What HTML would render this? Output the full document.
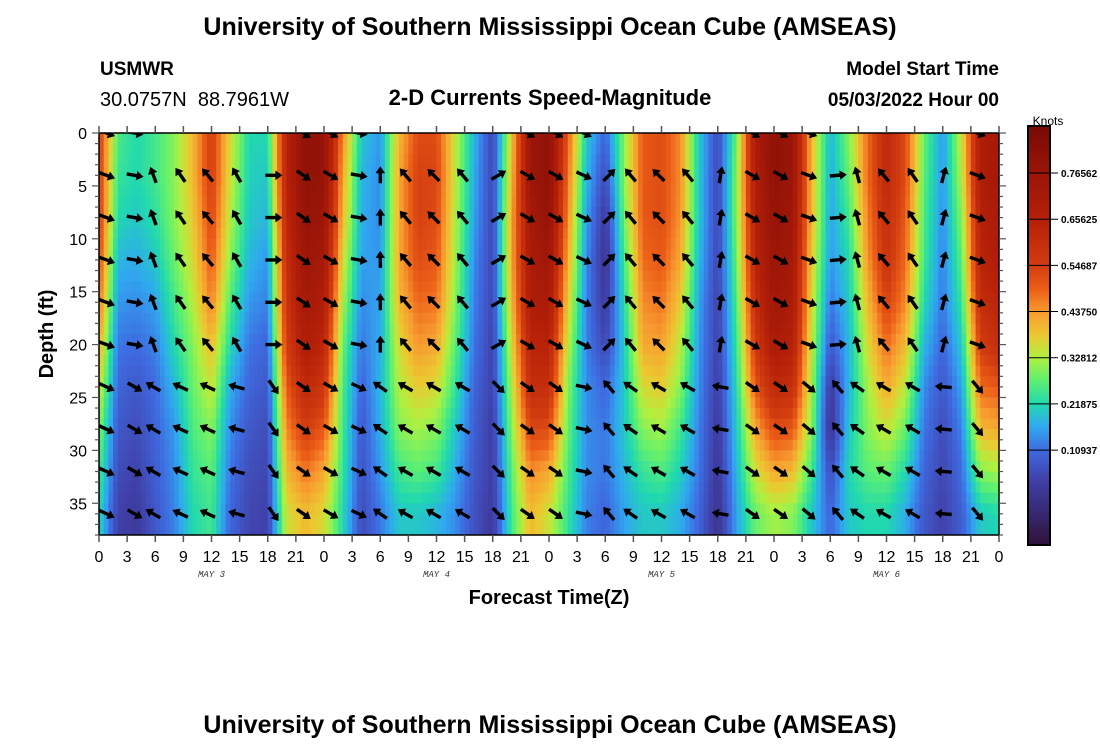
<!DOCTYPE html>
<html><head><meta charset="utf-8"><style>
html,body{margin:0;padding:0;background:#fff;}
svg{display:block;font-family:"Liberation Sans",sans-serif;}
</style></head><body>
<svg id="chart" width="1100" height="750" viewBox="0 0 1100 750">
<defs><clipPath id="plotclip"><rect x="99" y="133" width="900" height="402"/></clipPath></defs>
<text x="550" y="35" text-anchor="middle" font-size="25" font-weight="bold">University of Southern Mississippi Ocean Cube (AMSEAS)</text>
<text x="100" y="75" font-size="19" font-weight="bold">USMWR</text>
<text x="100" y="106" font-size="20">30.0757N&#160; 88.7961W</text>
<text x="550" y="105" text-anchor="middle" font-size="22" font-weight="bold">2-D Currents Speed-Magnitude</text>
<text x="999" y="75" text-anchor="end" font-size="19" font-weight="bold">Model Start Time</text>
<text x="999" y="106" text-anchor="end" font-size="19" font-weight="bold">05/03/2022 Hour 00</text>
<g id="heat" clip-path="url(#plotclip)"></g>
<g id="arrows" clip-path="url(#plotclip)"></g>
<g id="axes"></g>
<text transform="translate(53,334) rotate(-90)" text-anchor="middle" font-size="20" font-weight="bold">Depth (ft)</text>
<text x="549" y="604" text-anchor="middle" font-size="20" font-weight="bold">Forecast Time(Z)</text>
<text x="1048" y="125" text-anchor="middle" font-size="12">Knots</text>
<g id="cbar"></g>
<text x="550" y="733" text-anchor="middle" font-size="25" font-weight="bold">University of Southern Mississippi Ocean Cube (AMSEAS)</text>
</svg>
<script>
// ---- data ----
const hours = [0,2,4,6,8,10,12,14,16,18,20,22,24,26,28,30,32,34,36,38,40,42,44,46,48,50,52,54,56,58,60,62,64,66,68,70,72,74,76,78,80,82,84,86,88,90,92,94,96];
const depths = [0,4,8,12,16,20,24,28,32,36];
// speed[column][depthIndex] in knots
const speed = [
[.55,.55,.55,.52,.48,.42,.36,.3,.26,.22],
[.26,.24,.22,.18,.15,.12,.10,.08,.06,.04],
[.22,.22,.20,.17,.14,.11,.08,.06,.04,.02],
[.25,.25,.23,.2,.16,.13,.11,.1,.09,.08],
[.3,.3,.3,.28,.25,.22,.18,.15,.14,.13],
[.4,.4,.38,.36,.33,.3,.28,.26,.24,.22],
[.55,.55,.53,.5,.46,.4,.35,.3,.27,.25],
[.36,.35,.33,.3,.26,.22,.17,.14,.12,.1],
[.22,.21,.2,.18,.15,.12,.1,.08,.06,.05],
[.22,.2,.18,.15,.13,.1,.08,.06,.05,.04],
[.65,.65,.63,.6,.58,.55,.5,.45,.4,.35],
[.8,.8,.78,.75,.72,.68,.62,.55,.47,.4],
[.78,.78,.76,.72,.68,.63,.57,.5,.42,.36],
[.45,.42,.4,.36,.32,.28,.26,.25,.24,.22],
[.2,.18,.17,.16,.14,.12,.1,.08,.07,.06],
[.15,.14,.14,.15,.16,.17,.18,.17,.15,.12],
[.4,.42,.42,.42,.4,.36,.33,.3,.25,.2],
[.52,.54,.54,.52,.48,.44,.38,.32,.27,.2],
[.52,.53,.52,.5,.47,.42,.36,.3,.25,.18],
[.34,.34,.33,.32,.3,.27,.24,.2,.17,.14],
[.18,.17,.16,.14,.13,.12,.1,.09,.08,.07],
[.05,.05,.05,.05,.05,.04,.04,.03,.03,.02],
[.38,.4,.42,.42,.4,.36,.33,.3,.27,.25],
[.75,.75,.72,.7,.68,.64,.6,.53,.45,.4],
[.8,.8,.78,.74,.7,.65,.6,.52,.42,.35],
[.5,.48,.45,.42,.38,.34,.3,.28,.26,.24],
[.2,.18,.16,.14,.13,.13,.14,.14,.14,.13],
[.1,.06,.02,0,.02,.05,.1,.12,.12,.1],
[.3,.3,.28,.25,.22,.2,.2,.2,.18,.16],
[.5,.5,.5,.48,.45,.42,.36,.3,.24,.2],
[.52,.52,.52,.5,.47,.43,.38,.32,.26,.2],
[.45,.45,.44,.42,.38,.34,.3,.25,.21,.17],
[.2,.2,.2,.18,.16,.15,.14,.13,.12,.1],
[.06,.05,.05,.05,.04,.04,.03,.02,.01,0],
[.28,.3,.3,.28,.26,.24,.22,.2,.18,.16],
[.7,.68,.66,.64,.6,.56,.5,.42,.35,.28],
[.8,.8,.78,.76,.74,.7,.62,.52,.42,.32],
[.76,.76,.74,.72,.7,.66,.6,.5,.4,.3],
[.4,.4,.4,.38,.36,.34,.32,.3,.25,.2],
[.18,.17,.16,.15,.12,.08,.02,0,.06,.1],
[.3,.28,.25,.22,.2,.18,.18,.2,.22,.2],
[.48,.48,.46,.44,.4,.36,.32,.3,.27,.22],
[.62,.62,.6,.58,.54,.48,.42,.35,.28,.22],
[.52,.52,.5,.48,.45,.4,.34,.28,.22,.17],
[.28,.27,.26,.25,.22,.18,.14,.12,.1,.08],
[.15,.15,.14,.13,.12,.1,.08,.06,.05,.04],
[.35,.33,.3,.27,.24,.2,.16,.13,.11,.09],
[.68,.68,.66,.64,.6,.55,.48,.4,.3,.2],
[.72,.72,.7,.68,.64,.6,.5,.42,.32,.22]
];
const arrowHours = [0.8,3.8,5.8,8.7,11.6,14.7,18.6,21.8,24.7,27.7,30,32.7,35.7,38.8,42.6,45.7,48.7,51.7,54.4,56.7,59.7,62.8,66.3,69.7,72.7,75.7,78.8,80.9,83.7,86.8,90.1,93.7];
const arrowAngleUpper = [20,10,-110,-125,-130,-120,0,35,30,10,-90,-130,-135,-130,-30,30,30,25,-45,-130,-135,-130,-80,30,30,20,-5,-105,-130,-125,-75,20];
const arrowAngleDeep = [25,30,-150,-155,-155,-165,55,35,30,25,-145,-150,-150,-150,45,35,35,12,-130,-145,-150,-150,-170,35,35,40,-130,-145,-150,-150,-175,50];
const arrowAtSurface = [1,1,0,0,0,0,0,1,1,1,0,0,0,0,0,1,1,1,0,0,0,0,0,1,1,1,0,0,0,0,0,1];
const arrowDepths = [0,4,8,12,16,20,24,28,32,36];
const xTickHours = [0,3,6,9,12,15,18,21,24,27,30,33,36,39,42,45,48,51,54,57,60,63,66,69,72,75,78,81,84,87,90,93,96];
const xTickLabels = ["0","3","6","9","12","15","18","21","0","3","6","9","12","15","18","21","0","3","6","9","12","15","18","21","0","3","6","9","12","15","18","21","0"];
const dayLabels = ["MAY 3","MAY 4","MAY 5","MAY 6"];
const dayHours = [12,36,60,84];
const yTicks = [0,5,10,15,20,25,30,35];
const cbarTicks = [0.76562,0.65625,0.54687,0.4375,0.32812,0.21875,0.10937];
const cbarLabels = ["0.76562","0.65625","0.54687","0.43750","0.32812","0.21875","0.10937"];
// colormap stops (knots -> colour)
const cmapValues = [-0.115,0.038,0.109,0.164,0.219,0.275,0.328,0.382,0.4375,0.488,0.547,0.656,0.765,0.876];
const cmapColors = ["#30123b","#4040a8","#3f6ae0","#30a8f0","#20d8b0","#60f070","#b0f040","#ecc830","#f89a30","#ec6018","#d23c10","#b52008","#9a1508","#7a0a05"];

// ---- scales ----
const X0=99, X1=999, Y0=133, Y1=535, HMAX=96, DMAX=38;
const xs = h => X0 + (h/HMAX)*(X1-X0);
const ys = d => Y0 + (d/DMAX)*(Y1-Y0);
const hex = s => [parseInt(s.slice(1,3),16),parseInt(s.slice(3,5),16),parseInt(s.slice(5,7),16)];
const cmapRGB = cmapColors.map(hex);
function color(v){
  if(v<=cmapValues[0]) return `rgb(${cmapRGB[0].join(',')})`;
  const n=cmapValues.length;
  if(v>=cmapValues[n-1]) return `rgb(${cmapRGB[n-1].join(',')})`;
  let k=0; while(v>cmapValues[k+1]) k++;
  const f=(v-cmapValues[k])/(cmapValues[k+1]-cmapValues[k]);
  const a=cmapRGB[k], b=cmapRGB[k+1];
  return `rgb(${a.map((c,i)=>Math.round(c+(b[i]-c)*f)).join(',')})`;
}
const NS="http://www.w3.org/2000/svg";
function mk(tag, attrs, parent){const e=document.createElementNS(NS,tag);for(const k in attrs)e.setAttribute(k,attrs[k]);parent.appendChild(e);return e;}

// ---- heatmap ----
const heat=document.getElementById('heat');
function valAt(h,d){
  let j=Math.min(hours.length-2, Math.max(0, Math.floor(h/2)));
  let fj=Math.max(0,Math.min(1,(h-hours[j])/(hours[j+1]-hours[j])));
  let i=Math.min(depths.length-2, Math.max(0, Math.floor(d/4)));
  let fi=Math.max(0,Math.min(1,(d-depths[i])/(depths[i+1]-depths[i])));
  const a=speed[j][i]*(1-fi)+speed[j][i+1]*fi;
  const b=speed[j+1][i]*(1-fi)+speed[j+1][i+1]*fi;
  return a*(1-fj)+b*fj;
}
const SH=0.5, SD=1;
for(let h=0; h<HMAX; h+=SH){
  for(let d=0; d<DMAX; d+=SD){
    const xa=xs(h), xb=xs(h+SH), ya=ys(d), yb=ys(d+SD);
    const r=mk('rect',{x:xa.toFixed(2),y:ya.toFixed(2),width:(xb-xa+0.5).toFixed(2),height:(yb-ya+0.5).toFixed(2),fill:color(valAt(h+SH/2,d+SD/2))},heat);
    
    
  }
}

// ---- arrows ----
const arr=document.getElementById('arrows');
arrowHours.forEach((h,j)=>{
  arrowDepths.forEach(d=>{
    if(d===0 && !arrowAtSurface[j]) return;
    const ang = d>=24 ? arrowAngleDeep[j] : arrowAngleUpper[j];
    const p=mk('polygon',{points:"-8,-1.7 2,-1.7 2,-4.8 9,0 2,4.8 2,1.7 -8,1.7",fill:"#000",transform:`translate(${xs(h).toFixed(1)},${ys(d).toFixed(1)}) rotate(${ang})`},arr);
    
    
  });
});

// ---- axes ----
const ax=document.getElementById('axes');
mk('rect',{x:X0,y:Y0,width:X1-X0,height:Y1-Y0,fill:"none",stroke:"#000","stroke-width":1.5},ax);
xTickHours.forEach((h,i)=>{
  const x=xs(h);
  mk('line',{x1:x,y1:Y0,x2:x,y2:Y0-7,stroke:"#555","stroke-width":1.5},ax);
  mk('line',{x1:x,y1:Y1,x2:x,y2:Y1+7,stroke:"#555","stroke-width":1.5},ax);
  const t=mk('text',{x:x,y:Y1+27,"text-anchor":"middle","font-size":16},ax);
  t.textContent=xTickLabels[i];
  
  
});
dayHours.forEach((h,i)=>{
  const t=mk('text',{x:xs(h),y:Y1+42,"text-anchor":"middle","font-size":9,"font-style":"italic","font-family":"Liberation Mono, monospace",fill:"#333"},ax);
  t.textContent=dayLabels[i];
  
  
});
for(let d=0; d<=DMAX; d++){
  const y=ys(d), major=(d%5===0);
  mk('line',{x1:X0,y1:y,x2:X0-(major?7:4),y2:y,stroke:"#555","stroke-width":1.2},ax);
  mk('line',{x1:X1,y1:y,x2:X1+(major?7:4),y2:y,stroke:"#555","stroke-width":1.2},ax);
}
yTicks.forEach(d=>{
  const t=mk('text',{x:X0-12,y:ys(d)+6,"text-anchor":"end","font-size":16},ax);
  t.textContent=String(d);
  
  
});

// ---- colorbar ----
const cb=document.getElementById('cbar');
const CBX=1028, CBW=22, CBT=126, CBB=545, CBMIN=-0.1155, CBMAX=0.877;
const cy = v => CBB - (v-CBMIN)/(CBMAX-CBMIN)*(CBB-CBT);
const N=140;
for(let k=0;k<N;k++){
  const ya=CBT+(CBB-CBT)*k/N, v=CBMAX-(k+0.5)/N*(CBMAX-CBMIN);
  mk('rect',{x:CBX,y:ya.toFixed(2),width:CBW,height:((CBB-CBT)/N+0.6).toFixed(2),fill:color(v)},cb);
}
mk('rect',{x:CBX,y:CBT,width:CBW,height:CBB-CBT,fill:"none",stroke:"#000","stroke-width":2},cb);
cbarTicks.forEach((v,i)=>{
  const y=cy(v);
  mk('line',{x1:CBX,y1:y,x2:CBX+30,y2:y,stroke:"#000","stroke-width":1},cb);
  const t=mk('text',{x:CBX+33,y:y+4,"font-size":10,"font-weight":"bold"},cb);
  t.textContent=cbarLabels[i];
  
  
});
</script>
</body></html>
